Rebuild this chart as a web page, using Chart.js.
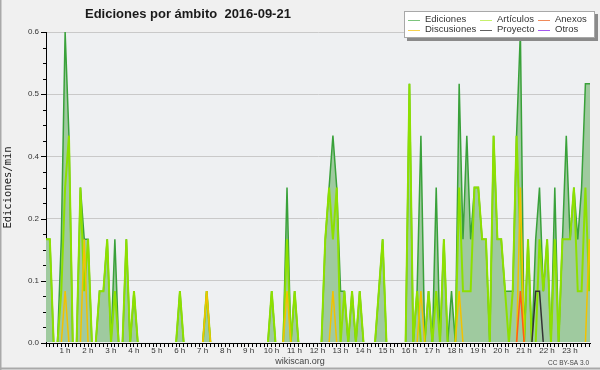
<!DOCTYPE html>
<html>
<head>
<meta charset="utf-8">
<title>Ediciones por ámbito</title>
<script src="https://cdn.jsdelivr.net/npm/chart.js@4.4.1/dist/chart.umd.min.js"></script>
<style>
  html, body { margin: 0; padding: 0; background: #f0f0f0; }
  canvas { display: block; }
</style>
</head>
<body>
<canvas id="chart" width="600" height="370"></canvas>
<script>
// Edits per minute, one value per 10-minute slot (00:00 .. 23:50)
const ediciones = [
    0.2, 0.2, 0, 0, 0.2, 0.6, 0.4, 0, 0, 0.3, 0.2, 0.2,
    0, 0, 0.1, 0.1, 0.2, 0, 0.2, 0, 0, 0.2, 0, 0.1,
    0, 0, 0, 0, 0, 0, 0, 0, 0, 0, 0, 0.1,
    0, 0, 0, 0, 0, 0, 0.1, 0, 0, 0, 0, 0,
    0, 0, 0, 0, 0, 0, 0, 0, 0, 0, 0, 0.1,
    0, 0, 0, 0.3, 0, 0.1, 0, 0, 0, 0, 0, 0,
    0, 0.2, 0.3, 0.4, 0.3, 0.1, 0.1, 0, 0.1, 0, 0.1, 0,
    0, 0, 0, 0.1, 0.2, 0, 0, 0, 0, 0, 0, 0.5,
    0, 0.1, 0.4, 0, 0.1, 0, 0.3, 0, 0.2, 0, 0.1, 0,
    0.5, 0.2, 0.4, 0.2, 0.3, 0.3, 0.2, 0.2, 0, 0.4, 0.2, 0.2,
    0.1, 0.1, 0.1, 0.4, 0.6, 0, 0.2, 0, 0.2, 0.3, 0.1, 0.2,
    0, 0.3, 0, 0.2, 0.4, 0.2, 0.3, 0.2, 0.3, 0.5, 0.5, 0.5
];
const articulos = [
    0.2, 0.2, 0, 0, 0.1, 0.3, 0.4, 0, 0, 0.3, 0.1, 0.2,
    0, 0, 0.1, 0.1, 0.2, 0, 0.1, 0, 0, 0.2, 0, 0.1,
    0, 0, 0, 0, 0, 0, 0, 0, 0, 0, 0, 0.1,
    0, 0, 0, 0, 0, 0, 0.1, 0, 0, 0, 0, 0,
    0, 0, 0, 0, 0, 0, 0, 0, 0, 0, 0, 0.1,
    0, 0, 0, 0.2, 0, 0.1, 0, 0, 0, 0, 0, 0,
    0, 0.2, 0.3, 0.2, 0.3, 0, 0.1, 0, 0.1, 0, 0.1, 0,
    0, 0, 0, 0.1, 0.2, 0, 0, 0, 0, 0, 0, 0.5,
    0, 0.1, 0, 0, 0.1, 0, 0.1, 0, 0.2, 0, 0, 0,
    0.3, 0.1, 0.1, 0.1, 0.3, 0.3, 0.2, 0.2, 0, 0.4, 0.2, 0.2,
    0.1, 0, 0.1, 0.4, 0.2, 0, 0.2, 0, 0, 0.2, 0.1, 0.2,
    0, 0.2, 0, 0.2, 0.2, 0.2, 0.3, 0.1, 0.1, 0.3, 0.1, 0.3
];
const discusiones = [
    0, 0, 0, 0, 0, 0.1, 0, 0, 0, 0, 0.2, 0,
    0, 0, 0, 0, 0, 0, 0, 0, 0, 0, 0, 0,
    0, 0, 0, 0, 0, 0, 0, 0, 0, 0, 0, 0,
    0, 0, 0, 0, 0, 0, 0.1, 0, 0, 0, 0, 0,
    0, 0, 0, 0, 0, 0, 0, 0, 0, 0, 0, 0,
    0, 0, 0, 0.1, 0, 0, 0, 0, 0, 0, 0, 0,
    0, 0, 0, 0.1, 0, 0, 0, 0, 0, 0, 0, 0,
    0, 0, 0, 0, 0, 0, 0, 0, 0, 0, 0, 0,
    0, 0, 0.1, 0, 0, 0, 0, 0, 0, 0, 0, 0,
    0.1, 0, 0, 0, 0, 0, 0, 0, 0, 0, 0, 0,
    0, 0, 0, 0, 0.3, 0, 0, 0, 0, 0, 0, 0,
    0, 0, 0, 0, 0, 0, 0, 0, 0, 0, 0.2, 0
];
const anexos = [
    0, 0, 0, 0, 0, 0, 0, 0, 0, 0, 0, 0,
    0, 0, 0, 0, 0, 0, 0, 0, 0, 0, 0, 0,
    0, 0, 0, 0, 0, 0, 0, 0, 0, 0, 0, 0,
    0, 0, 0, 0, 0, 0, 0, 0, 0, 0, 0, 0,
    0, 0, 0, 0, 0, 0, 0, 0, 0, 0, 0, 0,
    0, 0, 0, 0, 0, 0, 0, 0, 0, 0, 0, 0,
    0, 0, 0, 0, 0, 0, 0, 0, 0, 0, 0, 0,
    0, 0, 0, 0, 0, 0, 0, 0, 0, 0, 0, 0,
    0, 0, 0, 0, 0, 0, 0, 0, 0, 0, 0, 0,
    0, 0, 0, 0, 0, 0, 0, 0, 0, 0, 0, 0,
    0, 0, 0, 0, 0.1, 0, 0, 0, 0, 0, 0, 0,
    0, 0, 0, 0, 0, 0, 0, 0, 0, 0, 0, 0
];
const proyecto = [
    0, 0, 0, 0, 0, 0, 0, 0, 0, 0, 0, 0,
    0, 0, 0, 0, 0, 0, 0, 0, 0, 0, 0, 0,
    0, 0, 0, 0, 0, 0, 0, 0, 0, 0, 0, 0,
    0, 0, 0, 0, 0, 0, 0, 0, 0, 0, 0, 0,
    0, 0, 0, 0, 0, 0, 0, 0, 0, 0, 0, 0,
    0, 0, 0, 0, 0, 0, 0, 0, 0, 0, 0, 0,
    0, 0, 0, 0, 0, 0, 0, 0, 0, 0, 0, 0,
    0, 0, 0, 0, 0, 0, 0, 0, 0, 0, 0, 0,
    0, 0, 0, 0, 0, 0, 0, 0, 0, 0, 0, 0,
    0, 0, 0, 0, 0, 0, 0, 0, 0, 0, 0, 0,
    0, 0, 0, 0, 0, 0, 0, 0, 0.1, 0.1, 0, 0,
    0, 0, 0, 0, 0, 0, 0, 0, 0, 0, 0, 0
];
const otros = [
    0, 0, 0, 0, 0, 0, 0, 0, 0, 0, 0, 0,
    0, 0, 0, 0, 0, 0, 0, 0, 0, 0, 0, 0,
    0, 0, 0, 0, 0, 0, 0, 0, 0, 0, 0, 0,
    0, 0, 0, 0, 0, 0, 0, 0, 0, 0, 0, 0,
    0, 0, 0, 0, 0, 0, 0, 0, 0, 0, 0, 0,
    0, 0, 0, 0, 0, 0, 0, 0, 0, 0, 0, 0,
    0, 0, 0, 0, 0, 0, 0, 0, 0, 0, 0, 0,
    0, 0, 0, 0, 0, 0, 0, 0, 0, 0, 0, 0,
    0, 0, 0, 0, 0, 0, 0, 0, 0, 0, 0, 0,
    0, 0, 0, 0, 0, 0, 0, 0, 0, 0, 0, 0,
    0, 0, 0, 0, 0, 0, 0, 0, 0, 0, 0, 0,
    0, 0, 0, 0, 0, 0, 0, 0, 0, 0, 0, 0
];

// slot numbers for the x axis, 6 slots per hour
const slots = ediciones.map((v, i) => i);
const slotsPerHour = 6;
const yMajorStep = 0.12;

// legend is laid out in 3 columns of 2 rows
const legendOrder = ['Ediciones', 'Discusiones', 'Artículos', 'Proyecto', 'Anexos', 'Otros'];

// Function to get line color for a series
function getColor(name) {
    if (name === 'Ediciones') return '#39a13a';
    if (name === 'Artículos') return '#8de000';
    if (name === 'Discusiones') return '#f2c200';
    if (name === 'Anexos') return '#ff5a1a';
    if (name === 'Proyecto') return '#333333';
    if (name === 'Otros') return '#9b3cf0';
}

// lighter colors used by the legend samples
function getLegendColor(name) {
    if (name === 'Ediciones') return '#7cc47c';
    if (name === 'Artículos') return '#c6f06c';
    if (name === 'Discusiones') return '#f6d24e';
    if (name === 'Anexos') return '#f08a5a';
    if (name === 'Proyecto') return '#606060';
    if (name === 'Otros') return '#a458f0';
}

function isMajor(v) {
    const r = v / yMajorStep;
    return Math.abs(r - Math.round(r)) < 1e-6;
}

function makeSeries(name, values, order, width) {
    return {
        label: name,
        data: values,
        borderColor: getColor(name),
        borderWidth: width,
        pointRadius: 0,
        tension: 0,
        fill: false,
        order: order,
        clip: { left: 0, right: 0, top: 6, bottom: -1 }
    };
}

// background, plot area and frame
const backgroundPlugin = {
    id: 'background',
    beforeDraw(chart) {
        const ctx = chart.ctx;
        const a = chart.chartArea;
        ctx.save();
        ctx.fillStyle = '#f0f0f0';
        ctx.fillRect(0, 0, chart.width, chart.height);
        ctx.fillStyle = '#eef0f2';
        ctx.fillRect(a.left, a.top, a.right - a.left, a.bottom - a.top);
        ctx.fillStyle = '#a9a9a9';
        ctx.fillRect(0, 0, 1.5, chart.height);
        ctx.fillRect(0, chart.height - 2.5, chart.width, 2);
        ctx.restore();
    }
};

// y tick marks: long at labelled values, short in between
const yTicksPlugin = {
    id: 'yTicks',
    afterDraw(chart) {
        const ctx = chart.ctx;
        const scale = chart.scales.y;
        const left = chart.chartArea.left;
        ctx.save();
        ctx.strokeStyle = '#000';
        ctx.lineWidth = 1;
        scale.ticks.forEach(t => {
            const y = Math.round(scale.getPixelForValue(t.value)) + 0.5;
            const len = isMajor(t.value) ? 5 : 3;
            ctx.beginPath();
            ctx.moveTo(left - len, y);
            ctx.lineTo(left, y);
            ctx.stroke();
        });
        ctx.restore();
    }
};

// title, boxed legend and footer texts
const textPlugin = {
    id: 'texts',
    afterDraw(chart) {
        const ctx = chart.ctx;
        ctx.save();
        ctx.textBaseline = 'middle';

        ctx.fillStyle = '#1a1a1a';
        ctx.textAlign = 'left';
        ctx.font = 'bold 13px "Liberation Sans"';
        ctx.fillText('Ediciones por ámbito  2016-09-21', 85, 14);

        // legend box with shadow
        ctx.fillStyle = '#8a8a8a';
        ctx.fillRect(407, 14, 191, 27);
        ctx.fillStyle = '#ffffff';
        ctx.fillRect(404, 11, 191, 27);
        ctx.strokeStyle = '#a8a8a8';
        ctx.lineWidth = 1;
        ctx.strokeRect(404.5, 11.5, 190, 26);

        const colX = [408, 480, 538];
        const rowY = [19.5, 29.5];
        ctx.font = '9.5px "Liberation Sans"';
        legendOrder.forEach((name, k) => {
            const x = colX[Math.floor(k / 2)];
            const y = rowY[k % 2];
            ctx.strokeStyle = getLegendColor(name);
            ctx.lineWidth = 1;
            ctx.beginPath();
            ctx.moveTo(x, Math.round(y) + 0.5);
            ctx.lineTo(x + 12, Math.round(y) + 0.5);
            ctx.stroke();
            ctx.fillStyle = '#333';
            ctx.fillText(name, x + 17, y);
        });

        ctx.fillStyle = '#444';
        ctx.textAlign = 'center';
        ctx.font = '9px "Liberation Sans"';
        ctx.fillText('wikiscan.org', 300, 362);
        ctx.textAlign = 'right';
        ctx.font = '6.5px "Liberation Sans"';
        ctx.fillText('CC BY-SA 3.0', 589, 363);
        ctx.restore();
    }
};

Chart.defaults.font.family = '"Liberation Sans", sans-serif';

function main() {
    const canvas = document.querySelector('#chart');

    const total = makeSeries('Ediciones', ediciones, 6, 1.5);
    total.fill = 'origin';
    total.backgroundColor = '#9fca9f';

    new Chart(canvas.getContext('2d'), {
        type: 'line',
        data: {
            labels: slots,
            datasets: [
                total,
                makeSeries('Artículos', articulos, 5, 2),
                makeSeries('Discusiones', discusiones, 4, 1.5),
                makeSeries('Anexos', anexos, 3, 1.5),
                makeSeries('Proyecto', proyecto, 2, 1.5),
                makeSeries('Otros', otros, 1, 1.5)
            ]
        },
        options: {
            responsive: false,
            animation: false,
            devicePixelRatio: 1,
            events: [],
            layout: { padding: { top: 32, left: 0, right: 10, bottom: 7 } },
            plugins: {
                legend: { display: false },
                title: { display: false },
                tooltip: { enabled: false },
                filler: { drawTime: 'beforeDatasetsDraw' }
            },
            scales: {
                x: {
                    type: 'linear',
                    min: 0,
                    max: 142.2,
                    afterFit: s => { s.height = 20; },
                    border: { color: '#000', width: 1 },
                    grid: { drawOnChartArea: false, drawTicks: true, tickLength: 4, tickColor: '#000', color: '#000' },
                    ticks: {
                        stepSize: 1,
                        autoSkip: false,
                        maxRotation: 0,
                        includeBounds: false,
                        maxTicksLimit: 200,
                        labelOffset: -4,
                        padding: -1,
                        color: '#333',
                        font: { size: 8 },
                        callback: v => (v > 0 && v % slotsPerHour === 0) ? (v / slotsPerHour) + ' h' : ''
                    }
                },
                y: {
                    min: 0,
                    max: 0.6,
                    afterFit: s => { s.width = 46; },
                    border: { color: '#000', width: 1 },
                    grid: {
                        drawTicks: false,
                        lineWidth: 1,
                        color: c => (c.tick && c.tick.value > 0 && isMajor(c.tick.value)) ? '#c9c9c9' : 'rgba(0,0,0,0)'
                    },
                    ticks: {
                        stepSize: 0.03,
                        maxTicksLimit: 100,
                        padding: 7,
                        color: '#333',
                        font: { size: 8 },
                        callback: v => isMajor(v) ? v.toFixed(1) : ''
                    },
                    title: {
                        display: true,
                        text: 'Ediciones/min',
                        color: '#222',
                        font: { family: '"DejaVu Sans Mono"', size: 10.5 },
                        padding: { top: 2, bottom: 0 }
                    }
                }
            }
        },
        plugins: [backgroundPlugin, yTicksPlugin, textPlugin]
    });
}

main();
</script>
</body>
</html>
